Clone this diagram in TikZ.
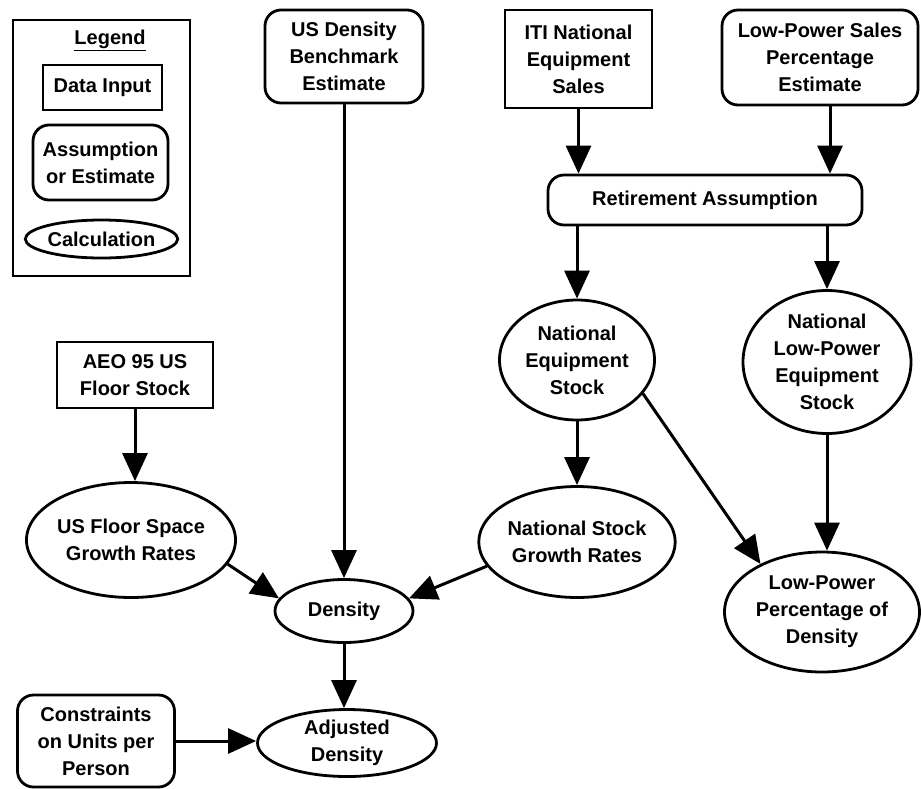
\documentclass[tikz,border=0pt]{standalone}
\usepackage{fontspec}
\setmainfont{Liberation Sans}
\usetikzlibrary{shapes.geometric,arrows.meta,calc}
\begin{document}
\begin{tikzpicture}[x=1pt,y=-1pt,
  every node/.style={font=\fontsize{20}{27}\selectfont\bfseries, align=center, inner sep=0pt, line width=2.8pt},
  datain/.style={draw, rectangle},
  assume/.style={draw, rectangle, rounded corners=16pt},
  calcnode/.style={draw, ellipse},
  arr/.style={line width=3pt, -{Triangle[length=28pt,width=25pt]}}]
\useasboundingbox (0,0) rectangle (921,788);
% legend
\node[draw, minimum width=177pt, minimum height=256pt] (leg) at (101.5,148) {};
\node (legt) at (110,40) {\underline{Legend}};
\node[datain, minimum width=119pt, minimum height=45pt] (legd) at (102.5,87.5) {Data Input};
\node[assume, minimum width=135pt, minimum height=75pt] (lega) at (100.5,162.5) {Assumption\\or Estimate};
\node[calcnode, minimum width=133pt, minimum height=38pt] (legc) at (101.5,239) {Calculation};
% main nodes
\node[assume, minimum width=158pt, minimum height=93pt] (usd) at (344,56.5) {US Density\\Benchmark\\Estimate};
\node[datain, minimum width=147pt, minimum height=98pt] (iti) at (578.5,59) {ITI National\\Equipment\\Sales};
\node[assume, minimum width=196pt, minimum height=95pt] (lps) at (820,57.5) {Low-Power Sales\\Percentage\\Estimate};
\node[assume, minimum width=314pt, minimum height=50pt] (ret) at (705,200) {Retirement Assumption};
\node[calcnode, minimum width=155pt, minimum height=120pt] (nes) at (577,360) {National\\Equipment\\Stock};
\node[calcnode, minimum width=168pt, minimum height=143pt] (nlpes) at (827,362) {National\\Low-Power\\Equipment\\Stock};
\node[datain, minimum width=156pt, minimum height=66pt] (aeo) at (135,375) {AEO 95 US\\Floor Stock};
\node[calcnode, minimum width=182pt, minimum height=115pt] (usfs) at (131,540) {US Floor Space\\Growth Rates};
\node[calcnode, minimum width=185pt, minimum height=111pt] (nsgr) at (577,542) {National Stock\\Growth Rates};
\node[calcnode, minimum width=195pt, minimum height=120pt] (lppd) at (822,612) {Low-Power\\Percentage of\\Density};
\node[calcnode, minimum width=138pt, minimum height=63pt] (dens) at (344,611) {Density};
\node[calcnode, minimum width=179pt, minimum height=67pt] (adj) at (347,743) {Adjusted\\Density};
\node[assume, minimum width=157pt, minimum height=92pt] (con) at (96,741) {Constraints\\on Units per\\Person};
% connectors
\coordinate (lpsA) at ($(lps.south)+(10,0)$);
\draw[arr] (iti.south) -- (iti.south |- ret.north);
\draw[arr] (lpsA) -- (lpsA |- ret.north);
\draw[arr] (nes.north |- ret.south) -- (nes.north);
\draw[arr] (nlpes.north |- ret.south) -- (nlpes.north);
\draw[arr] (nes.south) -- (nsgr.north);
\draw[arr] (nes.-27) -- (lppd.142);
\draw[arr] (nlpes.south) -- (nlpes.south |- lppd.north);
\draw[arr] (aeo.south) -- (aeo.south |- usfs.north);
\draw[arr] (usd.south) -- (dens.north);
\draw[arr] (usfs.-14) -- (dens.169);
\draw[arr] (nsgr.195) -- (dens.11);
\draw[arr] (dens.south) -- (dens.south |- adj.north);
\draw[arr] (con.east) -- (con.east -| adj.west);
\end{tikzpicture}
\end{document}
